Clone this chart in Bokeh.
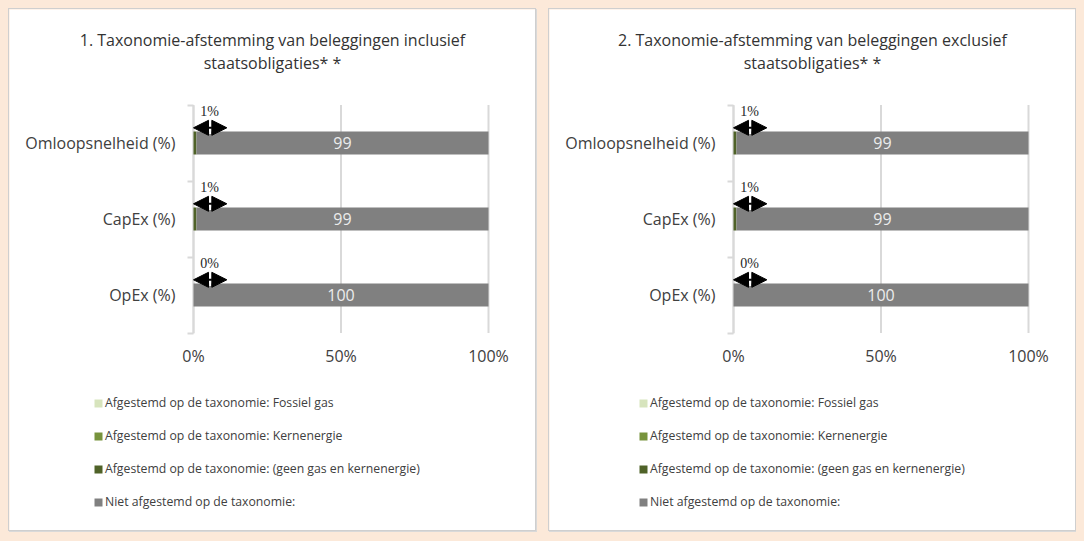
from bokeh.plotting import figure
from bokeh.models import (ColumnDataSource, FixedTicker, Legend, LegendItem, Label,
                          Arrow, NormalHead, Range1d, GlobalInlineStyleSheet)
from bokeh.layouts import row
from bokeh.embed import file_html
from bokeh.resources import INLINE
from bokeh.core.properties import value

# ---------------- data ----------------
CATEGORIES = ["OpEx (%)", "CapEx (%)", "Omloopsnelheid (%)"]   # bottom -> top
SERIES = [
    "Afgestemd op de taxonomie: Fossiel gas",
    "Afgestemd op de taxonomie: Kernenergie",
    "Afgestemd op de taxonomie: (geen gas en kernenergie)",
    "Niet afgestemd op de taxonomie:",
]
COLORS = ["#d7e4bd", "#77933c", "#4f6228", "#808080"]
X_TICKS = [0, 50, 100]
X_TICK_LABELS = ["0%", "50%", "100%"]

TITLE_1 = ["1. Taxonomie-afstemming van beleggingen inclusief", "staatsobligaties* *"]
FOSSIL_1 = [0, 0, 0]
NUCLEAR_1 = [0, 0, 0]
ALIGNED_1 = [0, 1, 1]
NOT_ALIGNED_1 = [100, 99, 99]

TITLE_2 = ["2. Taxonomie-afstemming van beleggingen exclusief", "staatsobligaties* *"]
FOSSIL_2 = [0, 0, 0]
NUCLEAR_2 = [0, 0, 0]
ALIGNED_2 = [0, 1, 1]
NOT_ALIGNED_2 = [100, 99, 99]

# ---------------- layout / style ----------------
FONT = "Open Sans"
TXT = "#404040"
GRID = "#d9d9d9"
W, H = 528, 523                 # panel size (px)
FRAME_X0, FRAME_X1 = 184, 479   # px positions of 0% and 100%
ROW_TOP_CENTER, ROW_PITCH = 133.5, 76  # px from top of the top category centre, px per category


def make_panel(title_lines, fossil, nuclear, aligned, not_aligned, legend_x, title_x):
    n = len(CATEGORIES)
    ys = list(range(n))
    green_total = [f + k + a for f, k, a in zip(fossil, nuclear, aligned)]
    src = ColumnDataSource(dict(
        y=ys, fossil=fossil, nuclear=nuclear, aligned=aligned, not_aligned=not_aligned,
        label_x=[g + v / 2 for g, v in zip(green_total, not_aligned)],
        label=[f"{v:g}" for v in not_aligned],
        callout=[f"{g:g}%" for g in green_total],
        cx=[0] * n,
        cx_end=[11.3] * n,
        cx_mid=[5.65] * n,
        y_text=[y + 0.41 for y in ys],
        y_arrow=[y + 0.2 for y in ys],
        y_tick0=[y + 0.12 for y in ys],
        y_tick1=[y + 0.28 for y in ys],
    ))
    grid_src = ColumnDataSource(dict(x=X_TICKS, y0=[-0.5] * len(X_TICKS),
                                     y1=[n - 0.5] * len(X_TICKS)))

    px_per_x = (FRAME_X1 - FRAME_X0) / 100.0
    x_start = -FRAME_X0 / px_per_x
    x_end = 100 + (W - FRAME_X1) / px_per_x
    y_end = (n - 1) + ROW_TOP_CENTER / ROW_PITCH
    y_start = y_end - H / ROW_PITCH

    p = figure(width=W, height=H, output_backend="svg", toolbar_location=None,
               x_range=Range1d(x_start, x_end), y_range=Range1d(y_start, y_end),
               min_border=0, min_border_left=0, min_border_right=0, min_border_top=0,
               min_border_bottom=0, background_fill_color="white",
               border_fill_color="white", outline_line_color=None)
    p.styles = {"border": "1px solid #cfcfcf", "box-shadow": "1px 1px 0 0 #d9d9d9"}
    p.xgrid.visible = False
    p.ygrid.visible = False

    # vertical gridlines
    p.segment(x0="x", x1="x", y0="y0", y1="y1", source=grid_src,
              line_color=GRID, line_width=2)

    rs = p.hbar_stack(["fossil", "nuclear", "aligned", "not_aligned"], y="y", height=0.30,
                      color=COLORS, line_color=None, source=src)

    p.text(x="label_x", y="y", text="label", source=src, text_align="center",
           text_baseline="middle", text_color="#ececec", text_font=value(FONT),
           text_font_size="16px")

    # callouts
    p.add_layout(Arrow(x_start="cx", y_start="y_arrow", x_end="cx_end", y_end="y_arrow",
                       source=src, line_color="black", line_width=2,
                       start=NormalHead(size=15, fill_color="black", line_color="black", line_width=1),
                       end=NormalHead(size=15, fill_color="black", line_color="black", line_width=1)))
    p.segment(x0="cx_mid", x1="cx_mid", y0="y_tick0", y1="y_tick1", source=src,
              line_color="white", line_width=2)
    p.text(x="cx", y="y_text", text="callout", source=src, x_offset=16, text_align="center",
           text_baseline="middle", text_color="#262626", text_font=value("Liberation Serif"),
           text_font_size="14px")

    # x axis (fixed at bottom category boundary)
    xa = p.xaxis[0]
    xa.fixed_location = -0.5
    xa.ticker = FixedTicker(ticks=X_TICKS)
    xa.major_label_overrides = {t: l for t, l in zip(X_TICKS, X_TICK_LABELS)}
    xa.axis_line_color = None
    xa.major_tick_line_color = None
    xa.minor_tick_line_color = None
    xa.major_label_standoff = 6
    xa.major_label_text_font = FONT
    xa.major_label_text_font_size = "16px"
    xa.major_label_text_color = TXT

    # y axis (fixed at 0%)
    ya = p.yaxis[0]
    ya.fixed_location = 0
    ya.bounds = (-0.5, n - 0.5)
    ya.ticker = FixedTicker(ticks=ys, minor_ticks=[y - 0.5 for y in ys] + [n - 0.5])
    ya.major_label_overrides = {y: c for y, c in zip(ys, CATEGORIES)}
    ya.axis_line_color = GRID
    ya.axis_line_width = 2
    ya.major_tick_out = 0
    ya.major_tick_in = 0
    ya.minor_tick_out = 6
    ya.minor_tick_in = 0
    ya.minor_tick_line_color = GRID
    ya.minor_tick_line_width = 2
    ya.major_label_standoff = 12
    ya.major_label_text_font = FONT
    ya.major_label_text_font_size = "16px"
    ya.major_label_text_color = TXT
    ya.level = "underlay"

    # title (two centred lines)
    for i, line in enumerate(title_lines):
        p.add_layout(Label(x=title_x, y=H - 30 - 23 * i, x_units="screen", y_units="screen",
                           text=line, text_align="center", text_baseline="middle",
                           text_font=FONT, text_font_size="16px", text_color="#333333"))

    legend = Legend(items=[LegendItem(label=s, renderers=[r]) for s, r in zip(SERIES, rs)],
                    location=(legend_x, 22), orientation="vertical",
                    glyph_width=10, glyph_height=10, label_height=10, spacing=16,
                    padding=0, margin=0, border_line_color=None, background_fill_alpha=0,
                    label_text_font=FONT, label_text_font_size="12.25px",
                    label_text_color=TXT, label_standoff=2)
    p.add_layout(legend)
    return p


p1 = make_panel(TITLE_1, FOSSIL_1, NUCLEAR_1, ALIGNED_1, NOT_ALIGNED_1, legend_x=84, title_x=263)
p2 = make_panel(TITLE_2, FOSSIL_2, NUCLEAR_2, ALIGNED_2, NOT_ALIGNED_2, legend_x=89, title_x=263)

layout = row(p1, p2, spacing=12)
layout.stylesheets = [GlobalInlineStyleSheet(css="body{background:#fce9d9;margin:8px;}")]

open("out.html", "w").write(file_html(layout, INLINE))
